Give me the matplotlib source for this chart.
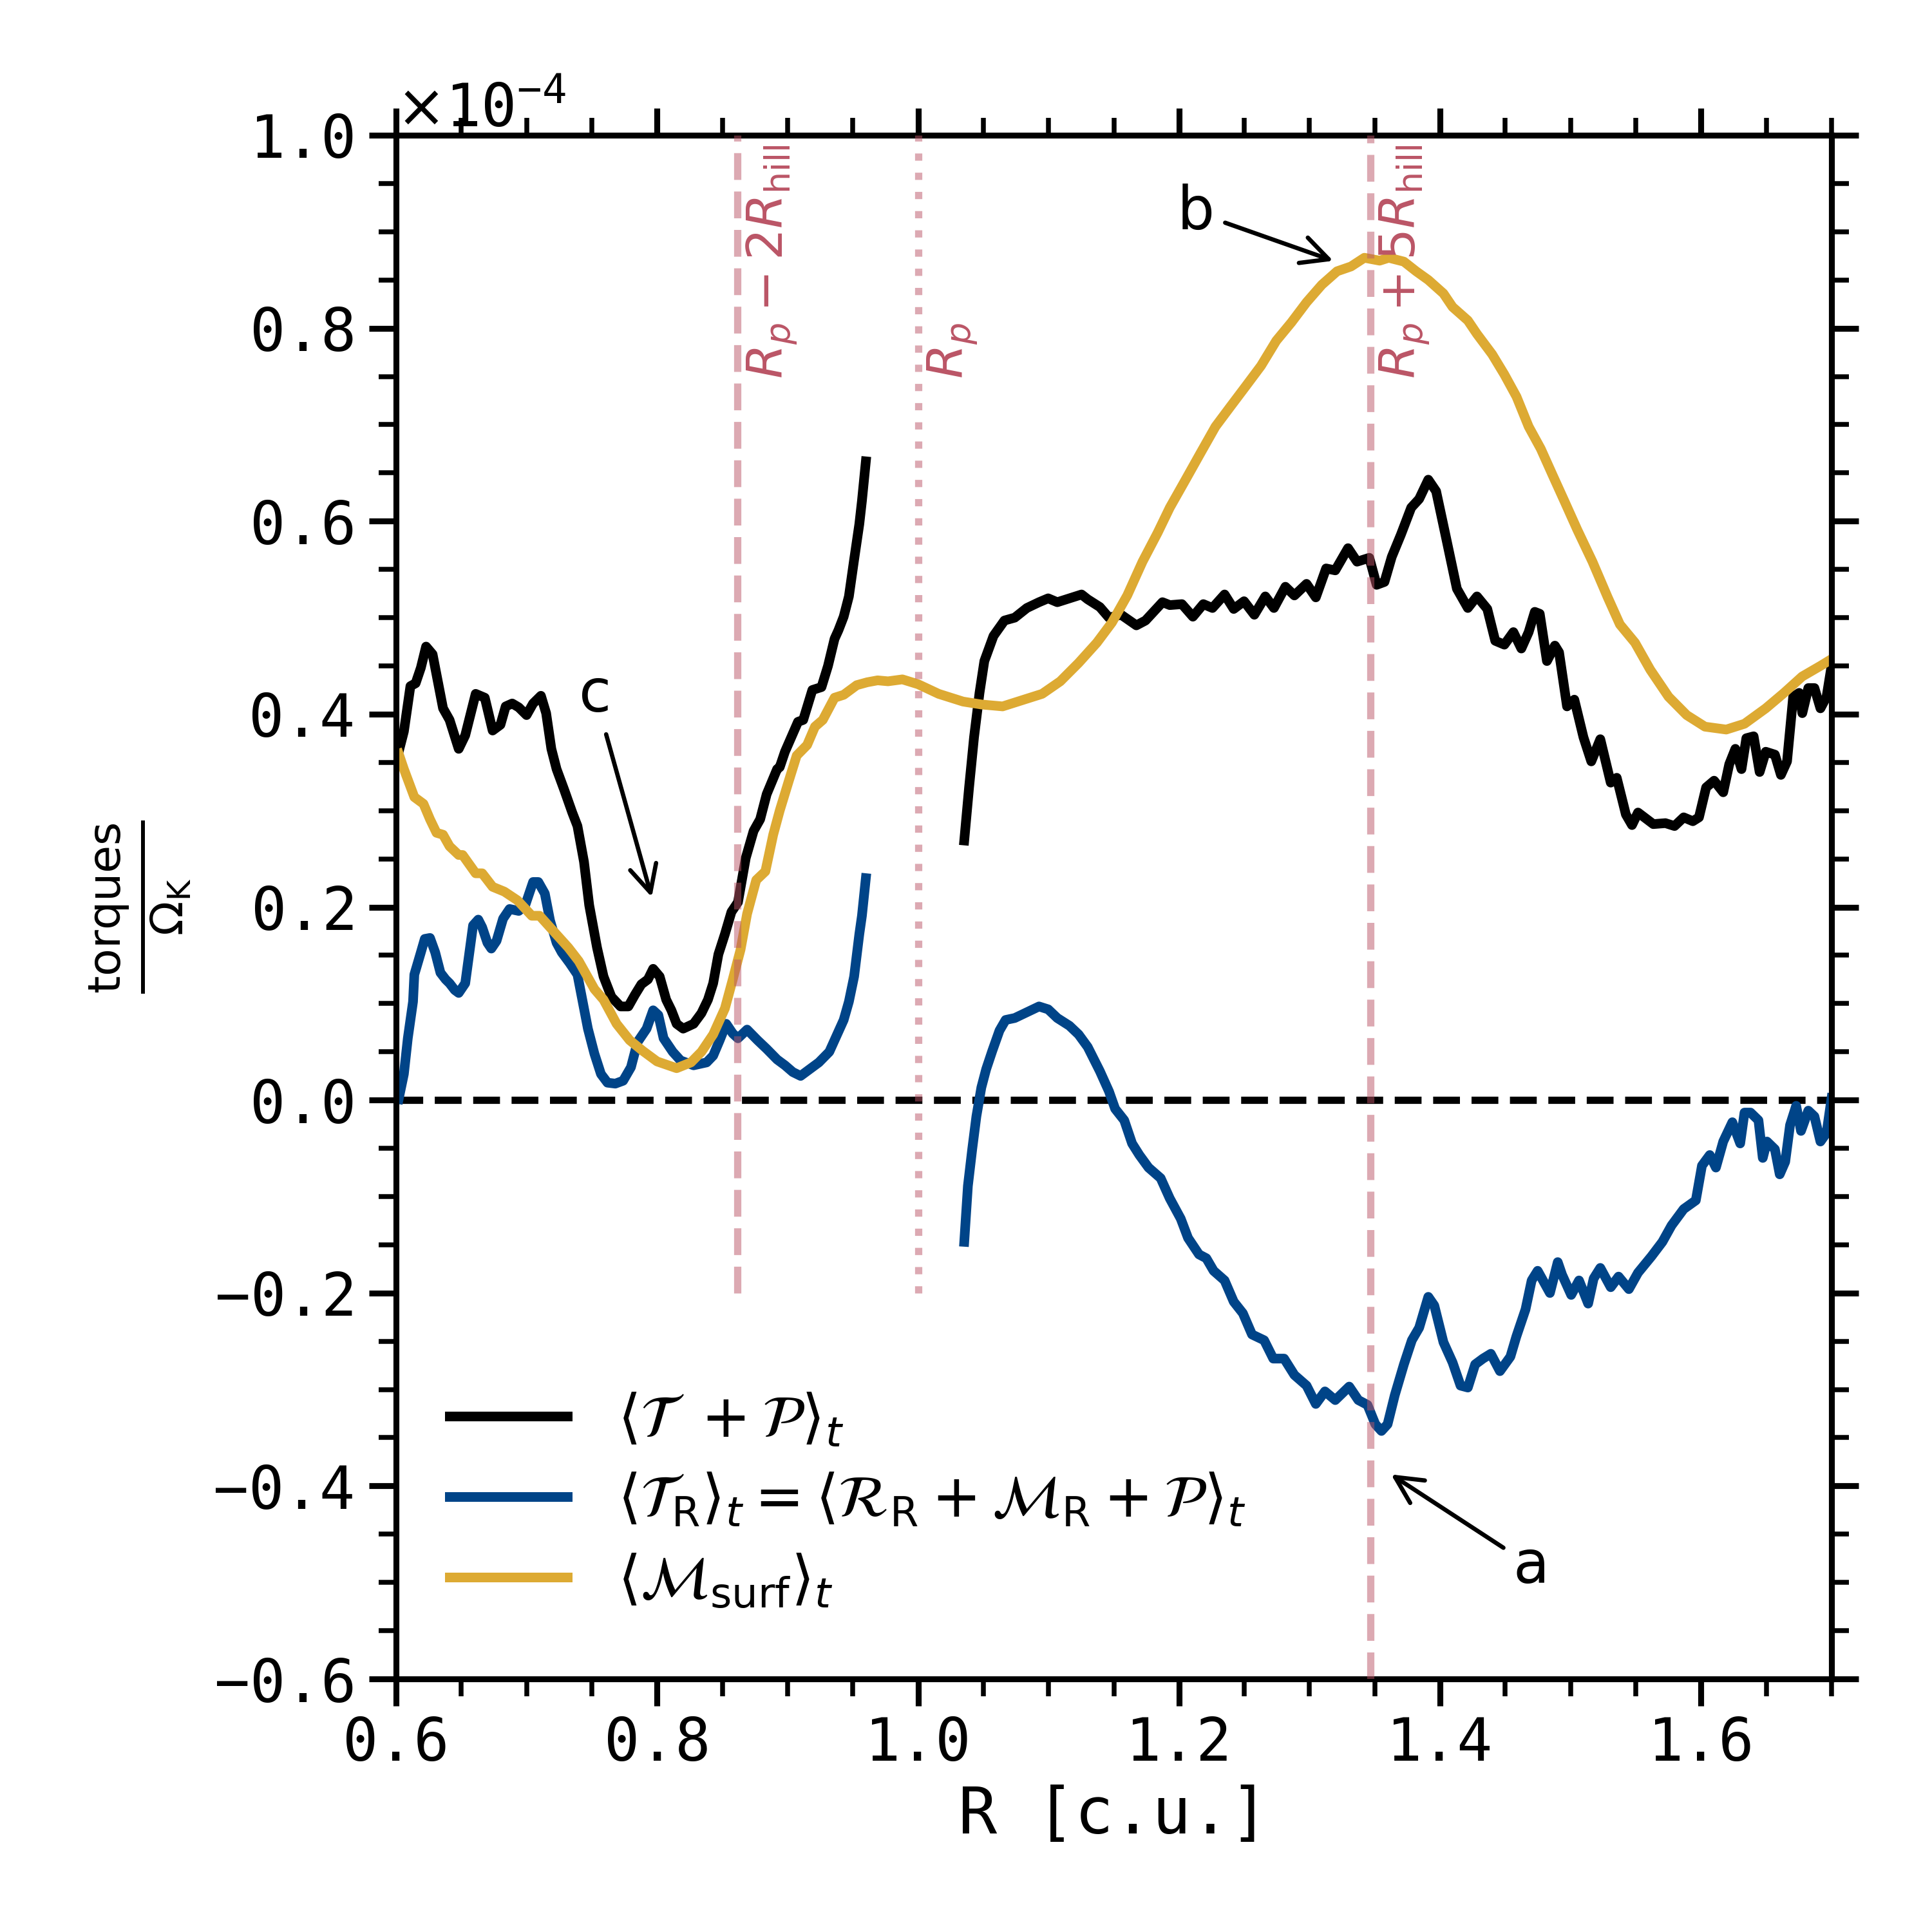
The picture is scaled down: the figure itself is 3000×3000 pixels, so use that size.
import numpy as np
import matplotlib
matplotlib.use('Agg')
import matplotlib.pyplot as plt
from matplotlib import ticker

# Данные (значения по y в единицах 1e-4)
# --- внутренняя часть, R < R_p ---
r_in_tot = [0.602, 0.606, 0.611, 0.615, 0.619, 0.623, 0.628, 0.634, 0.636, 0.641, 0.648, 0.653,
            0.661, 0.668, 0.674, 0.680, 0.684, 0.689, 0.694, 0.700, 0.705, 0.711, 0.715, 0.719,
            0.723, 0.729, 0.735, 0.739, 0.744, 0.748, 0.754, 0.759, 0.765, 0.772, 0.778, 0.783,
            0.788, 0.793, 0.797, 0.802, 0.807, 0.811, 0.815, 0.820, 0.828, 0.834, 0.839, 0.843,
            0.847, 0.852, 0.857, 0.862, 0.865, 0.868, 0.874, 0.879, 0.884, 0.892, 0.894, 0.898,
            0.908, 0.912, 0.919, 0.926, 0.931, 0.936, 0.939, 0.943, 0.947, 0.951, 0.955, 0.957,
            0.960]
tq_in_tot = [0.361, 0.382, 0.429, 0.432, 0.448, 0.470, 0.462, 0.420, 0.406, 0.394, 0.364, 0.378,
             0.421, 0.417, 0.383, 0.389, 0.408, 0.411, 0.407, 0.399, 0.411, 0.419, 0.401, 0.364,
             0.343, 0.321, 0.298, 0.284, 0.247, 0.202, 0.158, 0.128, 0.107, 0.097, 0.097, 0.109,
             0.120, 0.125, 0.136, 0.128, 0.104, 0.093, 0.079, 0.074, 0.079, 0.090, 0.104, 0.121,
             0.151, 0.172, 0.195, 0.205, 0.228, 0.251, 0.279, 0.291, 0.317, 0.343, 0.345, 0.361,
             0.392, 0.394, 0.425, 0.428, 0.450, 0.478, 0.487, 0.501, 0.522, 0.560, 0.597, 0.621,
             0.662]

r_in_R = [0.602, 0.606, 0.609, 0.613, 0.614, 0.619, 0.622, 0.626, 0.630, 0.634, 0.638, 0.641,
          0.645, 0.648, 0.653, 0.659, 0.663, 0.666, 0.670, 0.673, 0.677, 0.682, 0.687, 0.694,
          0.699, 0.705, 0.709, 0.714, 0.718, 0.723, 0.727, 0.733, 0.739, 0.743, 0.747, 0.752,
          0.757, 0.762, 0.768, 0.774, 0.780, 0.785, 0.792, 0.797, 0.801, 0.805, 0.812, 0.818,
          0.828, 0.838, 0.843, 0.848, 0.853, 0.858, 0.862, 0.869, 0.877, 0.884, 0.892, 0.898,
          0.904, 0.910, 0.917, 0.924, 0.932, 0.939, 0.943, 0.947, 0.951, 0.955, 0.957, 0.960]
tq_in_R = [0.001, 0.027, 0.064, 0.102, 0.130, 0.153, 0.167, 0.168, 0.153, 0.132, 0.125, 0.121,
           0.114, 0.111, 0.121, 0.181, 0.187, 0.179, 0.163, 0.157, 0.165, 0.188, 0.198, 0.196,
           0.202, 0.226, 0.226, 0.214, 0.186, 0.163, 0.153, 0.142, 0.130, 0.102, 0.074, 0.048,
           0.027, 0.018, 0.017, 0.020, 0.034, 0.060, 0.074, 0.093, 0.088, 0.064, 0.050, 0.041,
           0.036, 0.039, 0.046, 0.062, 0.079, 0.069, 0.064, 0.073, 0.062, 0.053, 0.042, 0.036,
           0.029, 0.025, 0.032, 0.039, 0.050, 0.071, 0.083, 0.102, 0.128, 0.172, 0.191, 0.230]

# --- внешняя часть, R > R_p ---
r_out_tot = [1.0354, 1.0391, 1.0429, 1.0471, 1.0508, 1.0578, 1.0662, 1.0741, 1.0834, 1.0927,
             1.0997, 1.1067, 1.1160, 1.1253, 1.1300, 1.1393, 1.1463, 1.1556, 1.1673, 1.1743,
             1.1873, 1.1929, 1.2022, 1.2106, 1.2186, 1.2256, 1.2349, 1.2419, 1.2498, 1.2577,
             1.2661, 1.2727, 1.2815, 1.2884, 1.2977, 1.3048, 1.3127, 1.3197, 1.3295, 1.3364,
             1.3458, 1.3514, 1.3574, 1.3630, 1.3700, 1.3779, 1.3840, 1.3910, 1.3970, 1.4049,
             1.4129, 1.4213, 1.4283, 1.4362, 1.4423, 1.4493, 1.4562, 1.4623, 1.4679, 1.4726,
             1.4764, 1.4819, 1.4880, 1.4912, 1.4973, 1.5029, 1.5099, 1.5159, 1.5228, 1.5308,
             1.5354, 1.5424, 1.5471, 1.5517, 1.5634, 1.5727, 1.5797, 1.5867, 1.5937, 1.5984,
             1.6039, 1.6100, 1.6170, 1.6216, 1.6263, 1.6310, 1.6347, 1.6403, 1.6449, 1.6496,
             1.6566, 1.6612, 1.6659, 1.6706, 1.6752, 1.6776, 1.6822, 1.6869, 1.6915, 1.6962,
             1.7000]
tq_out_tot = [0.269, 0.324, 0.376, 0.422, 0.455, 0.481, 0.497, 0.500, 0.510, 0.516,
              0.520, 0.516, 0.520, 0.524, 0.519, 0.511, 0.500, 0.503, 0.492, 0.497,
              0.516, 0.513, 0.514, 0.501, 0.514, 0.510, 0.524, 0.509, 0.517, 0.503,
              0.522, 0.510, 0.532, 0.523, 0.535, 0.521, 0.551, 0.549, 0.572, 0.558,
              0.562, 0.534, 0.537, 0.563, 0.586, 0.614, 0.623, 0.643, 0.631, 0.581,
              0.530, 0.510, 0.522, 0.509, 0.476, 0.472, 0.485, 0.468, 0.485, 0.506,
              0.504, 0.455, 0.471, 0.464, 0.408, 0.415, 0.376, 0.351, 0.374, 0.329,
              0.334, 0.296, 0.285, 0.298, 0.286, 0.287, 0.284, 0.293, 0.289, 0.293,
              0.324, 0.331, 0.319, 0.348, 0.364, 0.343, 0.375, 0.377, 0.340, 0.361,
              0.358, 0.337, 0.351, 0.418, 0.422, 0.401, 0.427, 0.427, 0.406, 0.418,
              0.450]

r_out_R = [1.0354, 1.0382, 1.0415, 1.0447, 1.0485, 1.0522, 1.0569, 1.0624, 1.0671, 1.0741,
           1.0834, 1.0927, 1.0997, 1.1067, 1.1160, 1.1230, 1.1300, 1.1393, 1.1463, 1.1510,
           1.1580, 1.1640, 1.1696, 1.1766, 1.1859, 1.1929, 1.2013, 1.2069, 1.2153, 1.2209,
           1.2265, 1.2349, 1.2419, 1.2489, 1.2559, 1.2652, 1.2722, 1.2805, 1.2884, 1.2977,
           1.3048, 1.3118, 1.3197, 1.3304, 1.3374, 1.3444, 1.3504, 1.3551, 1.3598, 1.3653,
           1.3723, 1.3784, 1.3840, 1.3910, 1.3956, 1.4026, 1.4096, 1.4157, 1.4213, 1.4269,
           1.4329, 1.4389, 1.4459, 1.4539, 1.4585, 1.4655, 1.4702, 1.4748, 1.4842, 1.4902,
           1.4935, 1.5005, 1.5065, 1.5135, 1.5177, 1.5228, 1.5308, 1.5368, 1.5447, 1.5517,
           1.5620, 1.5704, 1.5774, 1.5867, 1.5960, 1.6007, 1.6067, 1.6114, 1.6170, 1.6240,
           1.6300, 1.6333, 1.6379, 1.6440, 1.6473, 1.6505, 1.6566, 1.6603, 1.6645, 1.6682,
           1.6729, 1.6766, 1.6822, 1.6869, 1.6915, 1.6962, 1.7000]
tq_out_R = [-0.147, -0.089, -0.051, -0.017, 0.013, 0.032, 0.051, 0.072, 0.083, 0.085,
            0.091, 0.097, 0.094, 0.085, 0.077, 0.068, 0.055, 0.030, 0.009, -0.009,
            -0.021, -0.045, -0.057, -0.070, -0.081, -0.102, -0.123, -0.143, -0.160, -0.164,
            -0.177, -0.187, -0.209, -0.221, -0.243, -0.249, -0.268, -0.268, -0.285, -0.296,
            -0.315, -0.302, -0.311, -0.297, -0.311, -0.316, -0.336, -0.343, -0.336, -0.306,
            -0.274, -0.249, -0.236, -0.204, -0.213, -0.251, -0.272, -0.296, -0.298, -0.274,
            -0.268, -0.263, -0.281, -0.266, -0.245, -0.217, -0.187, -0.177, -0.200, -0.168,
            -0.181, -0.202, -0.187, -0.211, -0.185, -0.174, -0.194, -0.183, -0.196, -0.179,
            -0.162, -0.147, -0.130, -0.113, -0.104, -0.068, -0.057, -0.070, -0.043, -0.023,
            -0.045, -0.013, -0.013, -0.021, -0.060, -0.043, -0.051, -0.077, -0.064, -0.026,
            -0.006, -0.032, -0.011, -0.017, -0.043, -0.034, 0.002]

# --- поверхностный член, по всей области ---
r_surf = [0.602, 0.606, 0.614, 0.621, 0.626, 0.631, 0.636, 0.641, 0.648, 0.651, 0.661, 0.666,
          0.674, 0.683, 0.693, 0.704, 0.710, 0.724, 0.732, 0.740, 0.752, 0.759, 0.769, 0.779,
          0.789, 0.800, 0.815, 0.826, 0.834, 0.843, 0.852, 0.858, 0.864, 0.869, 0.876, 0.883,
          0.889, 0.894, 0.901, 0.907, 0.915, 0.921, 0.927, 0.936, 0.943, 0.953, 0.961, 0.969,
          0.977, 0.988, 1.000, 1.0158, 1.0345, 1.0485, 1.0648, 1.0811, 1.0951, 1.1090, 1.1230,
          1.1370, 1.1486, 1.1603, 1.1720, 1.1836, 1.1929, 1.2046, 1.2162, 1.2279, 1.2395, 1.2512,
          1.2628, 1.2745, 1.2861, 1.2978, 1.3094, 1.3211, 1.3318, 1.3420, 1.3537, 1.3607, 1.3723,
          1.3817, 1.3910, 1.4026, 1.4096, 1.4213, 1.4283, 1.4399, 1.4493, 1.4586, 1.4679, 1.4772,
          1.4865, 1.4959, 1.5052, 1.5168, 1.5285, 1.5378, 1.5494, 1.5611, 1.5751, 1.5890, 1.6030,
          1.6193, 1.6333, 1.6496, 1.6636, 1.6775, 1.6915, 1.7000]
tq_surf = [0.359, 0.343, 0.314, 0.307, 0.291, 0.277, 0.275, 0.263, 0.254, 0.254, 0.235, 0.235,
           0.221, 0.216, 0.207, 0.191, 0.191, 0.170, 0.158, 0.144, 0.115, 0.104, 0.079, 0.062,
           0.051, 0.040, 0.033, 0.039, 0.050, 0.068, 0.095, 0.125, 0.156, 0.193, 0.228, 0.237,
           0.275, 0.300, 0.331, 0.357, 0.368, 0.387, 0.394, 0.417, 0.420, 0.430, 0.433, 0.435,
           0.434, 0.436, 0.431, 0.421, 0.413, 0.410, 0.408, 0.415, 0.421, 0.434, 0.453,
           0.474, 0.495, 0.523, 0.558, 0.588, 0.614, 0.642, 0.670, 0.698, 0.719, 0.740,
           0.761, 0.787, 0.806, 0.827, 0.845, 0.859, 0.864, 0.873, 0.870, 0.873, 0.869,
           0.859, 0.850, 0.836, 0.822, 0.808, 0.794, 0.773, 0.752, 0.729, 0.698, 0.675,
           0.647, 0.619, 0.591, 0.558, 0.521, 0.493, 0.474, 0.446, 0.418, 0.399, 0.387,
           0.384, 0.390, 0.406, 0.422, 0.439, 0.450, 0.457]

# Положение планеты и радиус Хилла
R_p = 1.0
R_hill = 0.0693
vlines_x = [R_p - 2 * R_hill, R_p, R_p + 5 * R_hill]
vlines_txt = [r'$R_p - 2R_{\rm hill}$', r'$R_p$', r'$R_p + 5R_{\rm hill}$']
vlines_ls = ['--', ':', '--']
vlines_ymin = [-0.2, -0.2, -0.6]

scale = 1e-4
c_black = 'black'
c_blue = '#004488'
c_yellow = '#DDAA33'
c_red = '#BB5566'

plt.rcParams['font.family'] = 'DejaVu Sans Mono'
plt.rcParams['axes.formatter.use_mathtext'] = True
plt.rcParams['axes.linewidth'] = 2.2

fig, ax = plt.subplots(figsize=(10, 10), dpi=300)
fig.subplots_adjust(left=0.205, right=0.948, bottom=0.131, top=0.93)

lw = 3.6
ax.plot(r_in_tot, np.array(tq_in_tot) * scale, color=c_black, lw=lw,
        label=r'$\langle\mathcal{T}\ + \mathcal{P}\rangle_t$')
ax.plot(r_out_tot, np.array(tq_out_tot) * scale, color=c_black, lw=lw)
ax.plot(r_in_R, np.array(tq_in_R) * scale, color=c_blue, lw=lw,
        label=r'$\langle\mathcal{T}_{\rm R}\rangle_t = \langle\mathcal{R}_{\rm R} + \mathcal{M}_{\rm R} + \mathcal{P}\rangle_t$')
ax.plot(r_out_R, np.array(tq_out_R) * scale, color=c_blue, lw=lw)
ax.plot(r_surf, np.array(tq_surf) * scale, color=c_yellow, lw=lw,
        label=r'$\langle\mathcal{M}_{\rm surf}\rangle_t$')

# Нулевая линия
ax.axhline(0, color='black', ls='--', lw=2.7, zorder=1)

# Вертикальные линии R_p - 2R_hill, R_p, R_p + 5R_hill
for xv, txt, ls, ymin in zip(vlines_x, vlines_txt, vlines_ls, vlines_ymin):
    ax.vlines(xv, ymin * scale, 1.0 * scale, colors=c_red, linestyles=ls, lw=2.7, alpha=0.5, zorder=5)
    ax.text(xv + 0.006, 0.748 * scale, txt, rotation=90, ha='left', va='bottom',
            color=c_red, fontsize=18.5, family='DejaVu Sans')

# Подписи a, b, c со стрелками
arrow = dict(arrowstyle='->', color='black', lw=1.6, mutation_scale=25)
ax.annotate('a', xy=(1.359, -0.385 * scale), xytext=(1.47, -0.483 * scale),
            ha='center', va='center', fontsize=22, arrowprops=arrow, family='DejaVu Sans')
ax.annotate('b', xy=(1.322, 0.868 * scale), xytext=(1.213, 0.92 * scale),
            ha='center', va='center', fontsize=22, arrowprops=arrow, family='DejaVu Sans')
ax.annotate('c', xy=(0.797, 0.205 * scale), xytext=(0.7525, 0.42 * scale),
            ha='center', va='center', fontsize=22, arrowprops=arrow, family='DejaVu Sans')

ax.set_xlim(0.6, 1.7)
ax.set_ylim(-0.6 * scale, 1.0 * scale)
ax.xaxis.set_major_locator(ticker.MultipleLocator(0.2))
ax.xaxis.set_minor_locator(ticker.MultipleLocator(0.05))
ax.yaxis.set_major_locator(ticker.MultipleLocator(0.2 * scale))
ax.yaxis.set_minor_locator(ticker.MultipleLocator(0.05 * scale))
ax.xaxis.set_major_formatter(ticker.FormatStrFormatter('%.1f'))
ax.ticklabel_format(axis='y', style='sci', scilimits=(0, 0), useMathText=True)

ax.tick_params(which='both', direction='out', top=True, right=True, labelsize=22)
ax.tick_params(which='major', length=10, width=2.2)
ax.tick_params(which='minor', length=6.5, width=1.8)
ax.tick_params(axis='y', which='major', pad=6)
ax.yaxis.get_offset_text().set_fontsize(22)

ax.set_xlabel('R [c.u.]', fontsize=24)
ax.set_ylabel(r'$\frac{\rm torques}{\Omega_{\rm K}}$', fontsize=24, labelpad=7.5)

ax.legend(loc='lower left', bbox_to_anchor=(0.0, 0.01), frameon=False, fontsize=22,
          handlelength=2.0, handletextpad=0.85, labelspacing=0.38)

plt.savefig('out.png', dpi=300)
